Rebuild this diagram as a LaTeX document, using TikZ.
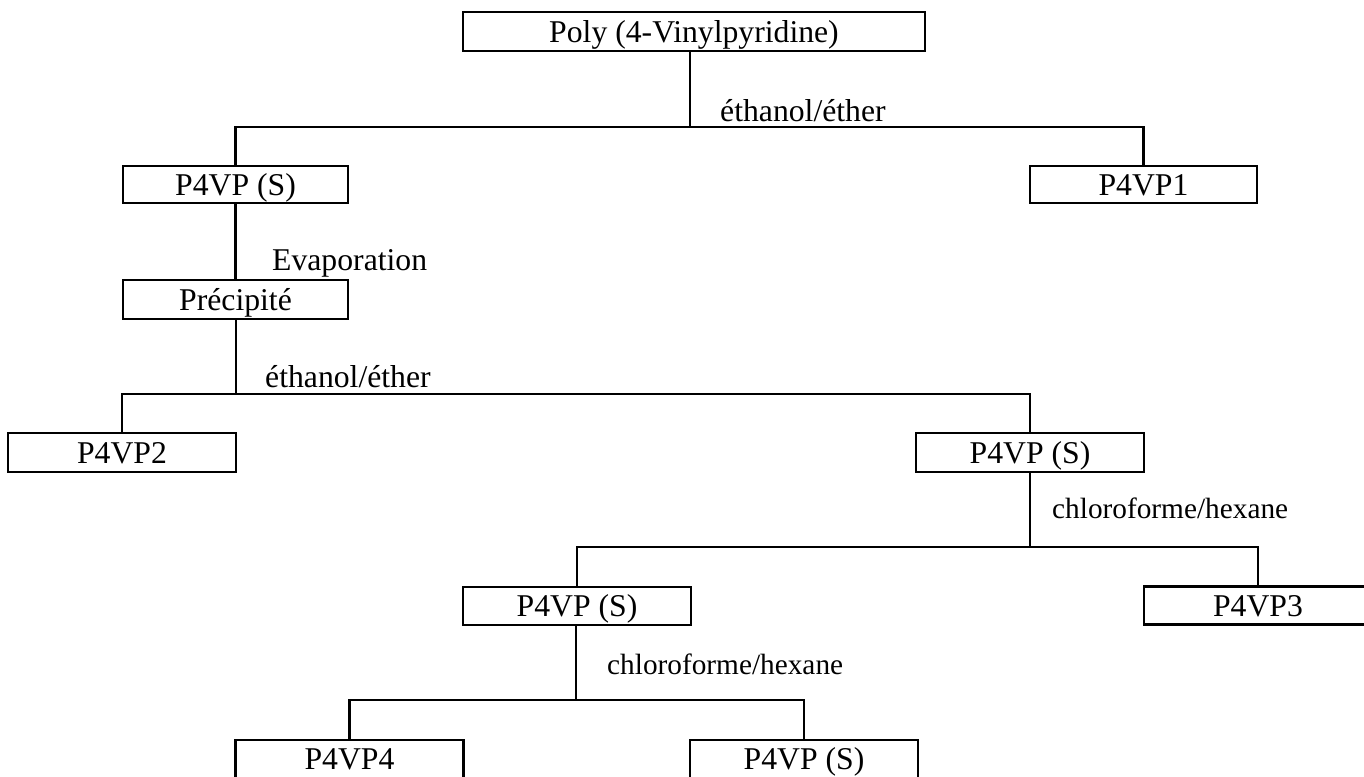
\documentclass[tikz,border=0pt]{standalone}
\usepackage{fontspec}
\setmainfont{Liberation Serif}
\begin{document}
\begin{tikzpicture}[x=1pt,y=-1pt,
  box/.style={draw, line width=2.4pt, inner sep=0pt, minimum width=228pt, minimum height=38pt,
    text height=23pt, text depth=2pt, font=\fontsize{31.7}{36}\selectfont},
  wire/.style={line width=2.4pt},
  lab/.style={anchor=base west, inner sep=0pt, font=\fontsize{31.7}{36}\selectfont},
  slab/.style={anchor=base west, inner sep=0pt, font=\fontsize{29.3}{34}\selectfont}]
\useasboundingbox (0,0) rectangle (1364,776);
\clip (0,0) rectangle (1364,776);
% boxes
\node[box, minimum width=462pt, minimum height=39pt] (top) at (694,31.5) {Poly (4-Vinylpyridine)};
\node[box, minimum width=225pt, minimum height=37pt] (s1) at (235.5,184.5) {P4VP (S)};
\node[box, minimum width=227pt, minimum height=37pt] (p1) at (1143.5,184.5) {P4VP1};
\node[box, minimum width=225pt, minimum height=39pt] (prec) at (235.5,299.5) {Précipité};
\node[box, minimum height=39pt] (p2) at (122,452.5) {P4VP2};
\node[box, minimum height=39pt] (s2) at (1030,452.5) {P4VP (S)};
\node[box] (s3) at (577,606) {P4VP (S)};
\node[box] (p3) at (1258,605.5) {P4VP3};
\node[box] (p4) at (349.5,759) {P4VP4};
\node[box] (s4) at (804,759) {P4VP (S)};
% junctions
\coordinate (j1) at (690,127);
\coordinate (j2) at (236,394);
\coordinate (j3) at (1030,547);
\coordinate (j4) at (576,700);
% connectors
\draw[wire] (top.south -| j1) -- (j1);
\draw[wire] (s1.north) -- (s1.north |- j1) -- (p1.north |- j1) -- (p1.north);
\draw[wire] (s1.south) -- (prec.north);
\draw[wire] (prec.south -| j2) -- (j2);
\draw[wire] (p2.north) -- (p2.north |- j2) -- (s2.north |- j2) -- (s2.north);
\draw[wire] (s2.south) -- (j3);
\draw[wire] (s3.north) -- (s3.north |- j3) -- (p3.north |- j3) -- (p3.north);
\draw[wire] (s3.south -| j4) -- (j4);
\draw[wire] (p4.north) -- (p4.north |- j4) -- (s4.north |- j4) -- (s4.north);
% labels
\node[lab] (l1) at (720,121) {éthanol/éther};
\node[lab] (l2) at (272,270) {Evaporation};
\node[lab] (l3) at (265,387) {éthanol/éther};
\node[slab] (l4) at (1052,518) {chloroforme/hexane};
\node[slab] (l5) at (607,674) {chloroforme/hexane};
\end{tikzpicture}
\end{document}
